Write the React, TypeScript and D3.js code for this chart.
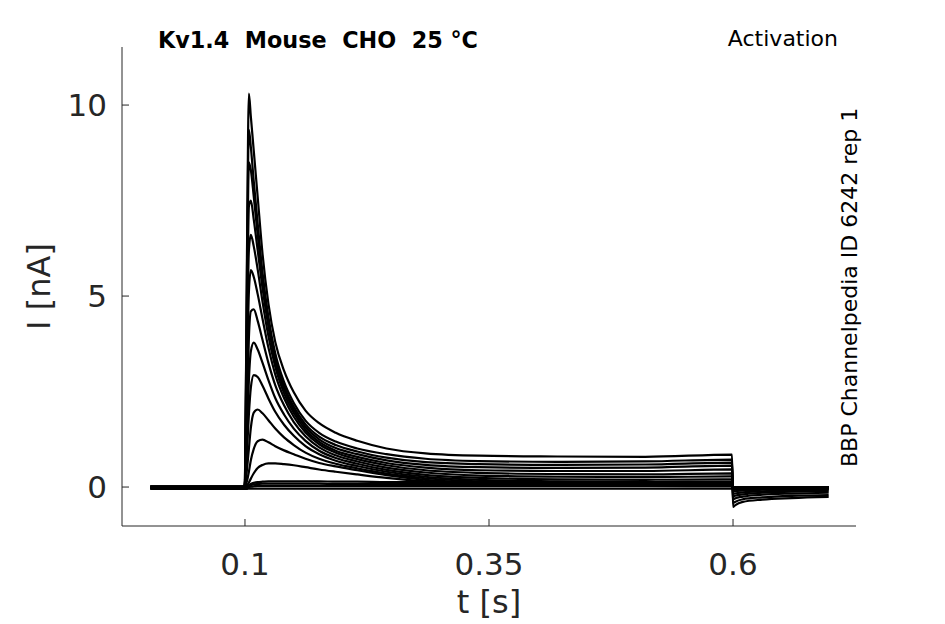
import * as React from 'react';
import * as d3 from 'd3';

// sample times [s] shared by every sweep
const tSec = [0.003, 0.0995, 0.1, 0.102, 0.104, 0.106, 0.109, 0.113, 0.118, 0.124, 0.131, 0.14, 0.15, 0.162, 0.176, 0.193, 0.215, 0.245, 0.285, 0.34, 0.42, 0.51, 0.599, 0.6, 0.602, 0.61, 0.63, 0.66, 0.698];

// current [nA] per sweep
const sweep01 = [0, 0, 0.2, 6.0, 10.3, 9.7, 8.8, 7.6, 6.1, 4.8, 3.8, 3.05, 2.48, 2.0, 1.67, 1.42, 1.21, 1.01, 0.88, 0.82, 0.8, 0.79, 0.85, -0.52, -0.48, -0.39, -0.33, -0.29, -0.26];
const sweep02 = [0.01, 0.01, 0.2, 5.6, 9.35, 8.9, 8.0, 6.9, 5.6, 4.45, 3.5, 2.75, 2.2, 1.74, 1.42, 1.19, 1.01, 0.86, 0.74, 0.68, 0.66, 0.67, 0.72, -0.42, -0.39, -0.32, -0.27, -0.23, -0.21];
const sweep03 = [-0.01, -0.01, 0.15, 4.8, 8.5, 8.3, 7.6, 6.6, 5.45, 4.35, 3.4, 2.65, 2.1, 1.64, 1.32, 1.1, 0.93, 0.77, 0.65, 0.6, 0.58, 0.59, 0.64, -0.33, -0.3, -0.25, -0.2, -0.17, -0.15];
const sweep04 = [0, 0, 0.1, 4.0, 7.35, 7.5, 7.0, 6.2, 5.2, 4.2, 3.3, 2.57, 2.02, 1.57, 1.25, 1.02, 0.86, 0.7, 0.58, 0.52, 0.5, 0.51, 0.56, -0.25, -0.23, -0.19, -0.15, -0.12, -0.11];
const sweep05 = [0.02, 0.02, 0.1, 3.4, 6.2, 6.6, 6.3, 5.7, 4.85, 3.95, 3.15, 2.46, 1.94, 1.5, 1.18, 0.95, 0.79, 0.63, 0.51, 0.44, 0.42, 0.42, 0.46, -0.18, -0.17, -0.14, -0.11, -0.09, -0.08];
const sweep06 = [-0.02, -0.02, 0.08, 2.7, 5.1, 5.68, 5.5, 5.05, 4.4, 3.65, 2.95, 2.33, 1.84, 1.43, 1.12, 0.9, 0.73, 0.57, 0.44, 0.37, 0.34, 0.33, 0.36, -0.12, -0.11, -0.09, -0.07, -0.06, -0.05];
const sweep07 = [0, 0, 0.06, 2.0, 3.9, 4.6, 4.65, 4.35, 3.85, 3.25, 2.67, 2.14, 1.7, 1.33, 1.04, 0.83, 0.67, 0.51, 0.38, 0.3, 0.27, 0.26, 0.28, -0.08, -0.07, -0.06, -0.05, -0.04, -0.03];
const sweep08 = [-0.03, -0.03, 0.05, 1.4, 2.8, 3.55, 3.78, 3.6, 3.25, 2.8, 2.33, 1.9, 1.53, 1.21, 0.95, 0.76, 0.61, 0.45, 0.32, 0.24, 0.2, 0.19, 0.2, -0.05, -0.05, -0.04, -0.03, -0.03, -0.02];
const sweep09 = [0.01, 0.01, 0.04, 0.9, 1.9, 2.6, 2.93, 2.88, 2.65, 2.32, 1.97, 1.63, 1.34, 1.07, 0.86, 0.69, 0.55, 0.4, 0.27, 0.19, 0.15, 0.13, 0.14, -0.03, -0.03, -0.02, -0.02, -0.01, -0.01];
const sweep10 = [-0.01, -0.01, 0.03, 0.45, 1.0, 1.55, 1.95, 2.03, 1.93, 1.75, 1.53, 1.3, 1.1, 0.9, 0.74, 0.61, 0.49, 0.35, 0.23, 0.15, 0.11, 0.09, 0.08, -0.02, -0.02, -0.01, -0.01, -0.01, 0];
const sweep11 = [0, 0, 0.02, 0.15, 0.4, 0.7, 1.0, 1.2, 1.24, 1.17, 1.07, 0.96, 0.86, 0.74, 0.63, 0.54, 0.44, 0.31, 0.19, 0.12, 0.08, 0.06, 0.04, -0.01, -0.01, -0.01, 0, 0, 0];
const sweep12 = [-0.04, -0.04, 0, 0.04, 0.12, 0.22, 0.36, 0.5, 0.58, 0.62, 0.62, 0.6, 0.57, 0.52, 0.46, 0.4, 0.33, 0.24, 0.15, 0.09, 0.05, 0.03, 0.02, -0.02, -0.02, -0.02, -0.02, -0.02, -0.02];
const sweep13 = [0.01, 0.01, 0.01, 0.02, 0.05, 0.08, 0.11, 0.13, 0.14, 0.15, 0.15, 0.15, 0.15, 0.15, 0.15, 0.14, 0.14, 0.13, 0.13, 0.12, 0.12, 0.11, 0.11, 0, 0, 0, 0, 0, 0];
const sweep14 = [0, 0, 0, 0.01, 0.03, 0.05, 0.07, 0.08, 0.09, 0.09, 0.09, 0.09, 0.09, 0.09, 0.09, 0.08, 0.08, 0.08, 0.08, 0.07, 0.07, 0.07, 0.07, -0.01, -0.01, -0.01, -0.01, -0.01, -0.01];
const sweep15 = [-0.02, -0.02, -0.02, -0.01, 0, 0.01, 0.02, 0.03, 0.03, 0.03, 0.03, 0.03, 0.03, 0.03, 0.03, 0.03, 0.03, 0.03, 0.03, 0.03, 0.03, 0.03, 0.03, -0.02, -0.02, -0.02, -0.02, -0.02, -0.02];
const sweep16 = [-0.05, -0.05, -0.05, -0.05, -0.04, -0.04, -0.04, -0.04, -0.04, -0.04, -0.04, -0.04, -0.04, -0.04, -0.04, -0.04, -0.04, -0.04, -0.04, -0.04, -0.04, -0.04, -0.04, -0.05, -0.05, -0.05, -0.05, -0.05, -0.05];

const sweeps = [sweep16, sweep15, sweep14, sweep13, sweep12, sweep11, sweep10, sweep09, sweep08, sweep07, sweep06, sweep05, sweep04, sweep03, sweep02, sweep01];

const xTicks = [0.1, 0.35, 0.6];
const yTicks = [0, 5, 10];
const xTickLabels = ['0.1', '0.35', '0.6'];
const yTickLabels = ['0', '5', '10'];

const title = 'Kv1.4  Mouse  CHO  25 °C';
const protocol = 'Activation';
const sideNote = 'BBP Channelpedia ID 6242 rep 1';

const W = 945;
const H = 624;
const left = 122, right = 856, top = 47, bottom = 526;
const axisColor = '#262626';
const font = '"DejaVu Sans", sans-serif';

export default function App() {
    const x = d3.scaleLinear().domain([-0.026, 0.726]).range([left, right]);
    const y = d3.scaleLinear().domain([-1.02, 11.52]).range([bottom, top]);

    const line = d3.line<number>()
        .x((d, i) => x(tSec[i]))
        .y(d => y(d))
        .curve(d3.curveMonotoneX);

    return (
        <svg width={W} height={H} style={{position: 'absolute', left: 0, top: 0, background: '#fff'}}>
            <g fill="none" stroke="#000" strokeWidth={2.2} strokeLinejoin="round">
                {sweeps.map((s, i) => <path key={i} d={line(s) || ''} />)}
            </g>

            <g stroke={axisColor} strokeWidth={1}>
                <line x1={left} x2={left} y1={top} y2={bottom} />
                <line x1={left} x2={right} y1={bottom} y2={bottom} />
                {xTicks.map(t => <line key={t} x1={x(t)} x2={x(t)} y1={bottom} y2={bottom - 7} />)}
                {yTicks.map(t => <line key={t} x1={left} x2={left + 7} y1={y(t)} y2={y(t)} />)}
            </g>

            <g fill={axisColor} fontFamily={font} fontSize={31}>
                {xTicks.map((t, i) => (
                    <text key={t} x={x(t)} y={575} textAnchor="middle">{xTickLabels[i]}</text>
                ))}
                {yTicks.map((t, i) => (
                    <text key={t} x={107} y={y(t) + 11} textAnchor="end">{yTickLabels[i]}</text>
                ))}
            </g>

            <g fill={axisColor} fontFamily={font} fontSize={32}>
                <text x={x(0.35)} y={613} textAnchor="middle">t [s]</text>
                <text transform={`translate(50, ${(top + bottom) / 2}) rotate(-90)`} textAnchor="middle">I [nA]</text>
            </g>

            <g fill="#000" fontFamily={font} fontSize={22}>
                <text x={158} y={48} fontWeight="bold" fontSize={22.3} style={{whiteSpace: 'pre'}}>{title}</text>
                <text x={838} y={46} textAnchor="end">{protocol}</text>
                <text transform="translate(857, 467) rotate(-90)">{sideNote}</text>
            </g>
        </svg>
    );
}
